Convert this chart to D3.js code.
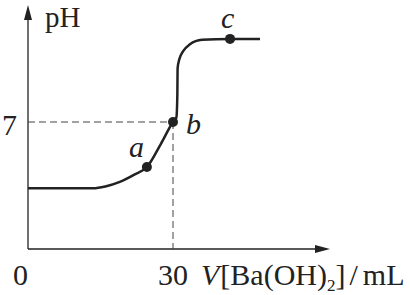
<!DOCTYPE html>
<html>
<head>
<meta charset="utf-8">
<script src="https://cdn.jsdelivr.net/npm/d3@7"></script>
<style>
  body { margin: 0; background: #fff; }
  text { font-family: "Liberation Serif", "Times New Roman", serif; fill: #222; }
</style>
</head>
<body>
<div id="chart"></div>
<script>
// titration curve (volume in mL, pH)
const volumes = [0, 6, 13.5, 16, 19, 22, 24.6, 27.5, 30, 30.7, 30.9, 30.95, 31.3, 32.1, 33.5, 36, 41.8, 48];
const phValues = [3.35, 3.35, 3.35, 3.45, 3.7, 4.1, 4.52, 5.8, 7, 7.25, 8.5, 9.95, 10.45, 10.9, 11.28, 11.53, 11.58, 11.58];
// labelled points
const pointNames = ["a", "b", "c"];
const pointVolumes = [24.6, 30, 41.8];
const pointPh = [4.52, 7, 11.58];
// ticks
const xTicks = [0, 30];
const yTicks = [7];

const width = 410, height = 295;
const svg = d3.select('#chart').append('svg')
    .attr('width', width)
    .attr('height', height);

const x = d3.scaleLinear().domain([0, 30]).range([28, 173]);
const y = d3.scaleLinear().domain([0, 7]).range([249, 122]);

const ink = '#222';
const fontSize = 30;

// axes
svg.append('line')
    .attr('x1', x(0)).attr('y1', y(0))
    .attr('x2', 320).attr('y2', y(0))
    .attr('stroke', ink).attr('stroke-width', 1.3);
svg.append('path')
    .attr('d', `M330,${y(0)} L315,${y(0) - 4} L315,${y(0) + 4} Z`)
    .attr('fill', ink);
svg.append('line')
    .attr('x1', x(0)).attr('y1', y(0))
    .attr('x2', x(0)).attr('y2', 15)
    .attr('stroke', ink).attr('stroke-width', 1.3);
svg.append('path')
    .attr('d', `M${x(0)},5 L${x(0) - 4},20 L${x(0) + 4},20 Z`)
    .attr('fill', ink);

// dashed guides to b
const bx = x(pointVolumes[1]), by = y(pointPh[1]);
svg.append('line')
    .attr('x1', x(0)).attr('y1', by).attr('x2', bx).attr('y2', by)
    .attr('stroke', '#444').attr('stroke-width', 1)
    .attr('stroke-dasharray', '7,4');
svg.append('line')
    .attr('x1', bx).attr('y1', by).attr('x2', bx).attr('y2', y(0))
    .attr('stroke', '#444').attr('stroke-width', 1)
    .attr('stroke-dasharray', '7,4');

// curve
const data = volumes.map((v, i) => ({v: v, ph: phValues[i]}));
const line = d3.line()
    .curve(d3.curveMonotoneX)
    .x(d => x(d.v))
    .y(d => y(d.ph));
svg.append('path')
    .datum(data)
    .attr('d', line)
    .attr('fill', 'none')
    .attr('stroke', ink)
    .attr('stroke-width', 2.5);

// dots and labels
const labelOffsets = [[-18, -10], [13, 12], [-9, -11]];
pointNames.forEach((name, i) => {
    const px = x(pointVolumes[i]), py = y(pointPh[i]);
    svg.append('circle')
        .attr('cx', px).attr('cy', py).attr('r', 5)
        .attr('fill', ink);
    svg.append('text')
        .attr('x', px + labelOffsets[i][0])
        .attr('y', py + labelOffsets[i][1])
        .attr('font-size', fontSize)
        .attr('font-style', 'italic')
        .text(name);
});

// tick labels
yTicks.forEach(t => {
    svg.append('text')
        .attr('x', 2).attr('y', y(t) + 13)
        .attr('font-size', fontSize)
        .text(t);
});
svg.append('text')
    .attr('x', 13).attr('y', 285)
    .attr('font-size', fontSize)
    .text(xTicks[0]);
svg.append('text')
    .attr('x', x(xTicks[1])).attr('y', 285)
    .attr('font-size', fontSize)
    .attr('text-anchor', 'middle')
    .text(xTicks[1]);

// axis titles
svg.append('text')
    .attr('x', 45).attr('y', 27)
    .attr('font-size', 29)
    .text('pH');

const xt = svg.append('text')
    .attr('x', 201).attr('y', 285)
    .attr('font-size', fontSize);
xt.append('tspan').attr('font-style', 'italic').text('V');
xt.append('tspan').attr('dx', 1).text('[Ba(OH)');
xt.append('tspan').attr('font-size', 17).attr('dy', 6).text('2');
xt.append('tspan').attr('dy', -6).text(']');
xt.append('tspan').attr('dx', 4).text('/');
xt.append('tspan').attr('dx', 5).text('mL');
</script>
</body>
</html>
